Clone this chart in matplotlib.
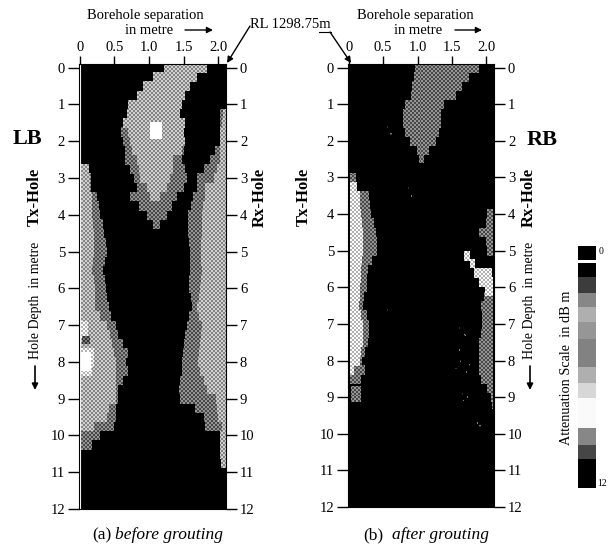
import numpy as np
import matplotlib
matplotlib.use('Agg')
import matplotlib.pyplot as plt

plt.rcParams['font.family'] = ['Liberation Serif', 'DejaVu Serif']

W, H = 608, 549

# attenuation shades, 0 = black ... 5 = white
shades = [0, 85, 110, 170, 215, 255]

# (a) before grouting, zone edges in metres read at each depth
a_blob_d = [0, .25, .5, .75, 1, 1.25, 1.5, 1.75, 2, 2.25, 2.5, 2.75, 3, 3.25, 3.5]
a_blob_l = [1.21, 1.06, .92, .82, .70, .68, .63, .70, .72, .75, .82, .85, .87, .97, 1.01]
a_blob_r = [1.84, 1.69, 1.59, 1.52, 1.47, 1.45, 1.52, 1.50, 1.52, 1.47, 1.35, 1.35, 1.30, 1.26, 1.16]
a_fringe_d = [1.75, 2, 2.25, 2.5, 2.75, 3, 3.25, 3.5, 3.75, 4, 4.25]
a_fringe_l = [.60, .62, .65, .66, .72, .78, .82, .72, .85, .97, 1.06]
a_fringe_r = [1.50, 1.52, 1.50, 1.47, 1.52, 1.55, 1.50, 1.40, 1.33, 1.26, 1.16]

a_left_d = [2.75, 3, 3.25, 3.5, 3.75, 4, 4.25, 4.5, 4.75, 5, 5.25, 5.5, 5.75, 6, 6.25, 6.5, 6.75, 7, 7.25, 7.5,
            7.75, 8, 8.25, 8.5, 8.75, 9, 9.25, 9.5, 9.75, 10, 10.25]
a_left_light = [.14, .15, .15, .18, .18, .18, .19, .20, .20, .20, .19, .18, .20, .22, .22, .22, .30, .40, .43, .47,
                .50, .53, .53, .53, .53, .53, .42, .40, .20, 0, 0]
a_left_dark = [.14, .16, .17, .25, .28, .30, .33, .35, .38, .40, .36, .33, .36, .38, .40, .42, .45, .52, .55, .62,
               .70, .67, .70, .62, .55, .55, .53, .52, .50, .29, .18]
a_right_d = [1.25, 1.5, 1.75, 2, 2.25, 2.5, 2.75, 3, 3.25, 3.5, 3.75, 4, 4.25, 4.5, 4.75, 5, 5.25, 5.5, 5.75, 6,
             6.25, 6.5, 6.75, 7, 7.25, 7.5, 7.75, 8, 8.25, 8.5, 8.75, 9, 9.25, 9.5, 9.75]
a_right_light = [2.07, 2.05, 2.03, 2.03, 2.02, 2.03, 1.98, 1.93, 1.81, 1.80, 1.78, 1.76, 1.76, 1.76, 1.75, 1.75, 1.75, 1.76, 1.75, 1.74,
                 1.72, 1.69, 1.72, 1.76, 1.75, 1.74, 1.72, 1.71, 1.74, 1.79, 1.84, 1.96, 1.98, 2.0, 2.05]
a_right_dark = [2.03, 2.02, 2.02, 2.02, 1.95, 1.88, 1.79, 1.69, 1.69, 1.64, 1.60, 1.56, 1.56, 1.56, 1.57, 1.59, 1.59, 1.59, 1.58, 1.58,
                1.60, 1.62, 1.58, 1.55, 1.52, 1.50, 1.49, 1.48, 1.48, 1.45, 1.43, 1.45, 1.67, 1.79, 1.81]
a_strip_d = [10, 10.25, 10.5, 10.75]
a_strip_l = [2.03, 2.03, 2.03, 2.04]

# (b) after grouting
b_blob_d = [0, .25, .5, .75, 1, 1.25, 1.5, 1.75, 2, 2.25, 2.45]
b_blob_l = [.95, .94, .92, .90, .81, .78, .78, .81, .89, .98, 1.02]
b_blob_r = [1.89, 1.75, 1.65, 1.56, 1.39, 1.35, 1.34, 1.31, 1.27, 1.17, 1.10]
b_left_d = [3, 3.25, 3.5, 3.75, 4, 4.25, 4.5, 4.75, 5, 5.25, 5.5, 5.75, 6, 6.25, 6.5, 6.75, 7, 7.25, 7.5, 7.75, 8, 8.25, 8.5]
b_left_light = [.02, .12, .16, .17, .18, .19, .20, .20, .20, .19, .18, .18, .17, .16, .15, .18, .20, .20, .20, .18, .16, .08, .02]
b_left_dark = [.11, .12, .30, .31, .32, .36, .40, .41, .41, .34, .28, .27, .26, .22, .20, .27, .29, .29, .28, .24, .19, .23, .18]
b_spot_d = [8.8, 9.0]
b_spot_r = [.18, .18]
b_right_d = [4, 4.25, 4.5, 4.75, 5, 6.25, 6.5, 6.75, 7, 7.25, 7.5, 7.75, 8, 8.25, 8.5, 8.75, 9, 9.2]
b_right_l = [2.01, 1.99, 1.89, 1.99, 2.01, 1.97, 1.92, 1.94, 1.94, 1.92, 1.90, 1.90, 1.90, 1.89, 1.92, 2.01, 2.06, 2.08]
b_streak_d = [5.15, 5.35, 5.6, 5.85, 6.1]
b_streak_l = [1.68, 1.76, 1.82, 1.89, 1.98]
b_streak_r = [1.76, 1.84, 2.08, 2.09, 2.09]
# faint specks in the dark part of (b)
b_speck_d = [1.6, 1.8, 3.3, 3.5, 6.6, 7.1, 7.3, 7.7, 8.0, 8.1, 8.2, 8.3, 8.9, 9.0, 9.1, 9.7, 9.8]
b_speck_x = [.55, .6, .85, .9, .55, 1.6, 1.68, 1.6, 1.62, 1.75, 1.55, 1.7, 1.65, 1.72, 1.66, 1.86, 1.9]

# colour scale: segment edges in pixels of the printed bar and their shade
scale_edges = [246, 260, 263, 277, 293, 307, 322, 339, 367, 383, 398, 428, 445, 459, 488]
scale_shades = [0, 255, 0, 60, 135, 175, 150, 130, 175, 215, 250, 135, 70, 0]

x_ticks = [0, .5, 1, 1.5, 2]
x_labels = ['0', '0.5', '1.0', '1.5', '2.0']
depths = list(range(13))


def make_panel(x_max=2.11, y_min=-0.1, y_max=12.0):
    xe = np.linspace(-0.01, x_max, 148)
    ye = np.linspace(y_min, y_max, 446)
    return xe, ye, np.zeros((445, 147), dtype=int)


def paint(p, d_list, left, right, level, h=0.25):
    xe, ye, g = p
    xc = (xe[:-1] + xe[1:]) / 2
    yc = (ye[:-1] + ye[1:]) / 2
    for d, l, r in zip(d_list, left, right):
        my = (yc >= d - h / 2) & (yc < d + h / 2 + 0.01)
        mx = (xc >= l) & (xc <= r)
        g[np.ix_(my, mx)] = level


def draw_panel(ax, p):
    xe, ye, g = p
    img = np.array(shades, dtype=float)[g]
    # printed halftone look
    ii, jj = np.indices(g.shape)
    grain = ((ii // 2 + jj // 2) % 2) * 2 - 1
    img = np.clip(img + grain * np.where((g > 0) & (g < 5), 38, 0), 0, 255)
    ax.pcolormesh(xe, ye, img, cmap='gray', vmin=0, vmax=255, shading='flat')
    ax.set_xlim(xe[0], xe[-1])
    ax.set_ylim(ye[-1], ye[0])
    ax.xaxis.tick_top()
    ax.set_xticks(x_ticks, x_labels)
    ax.set_yticks(depths)
    ax.tick_params(axis='x', length=6, width=1, pad=1, labelsize=10.5)
    ax.tick_params(axis='y', length=8, width=1, pad=2, labelsize=10.5, left=True, right=True,
                   labelleft=True, labelright=True)
    for s in ax.spines.values():
        s.set_linewidth(0.8)


fig = plt.figure(figsize=(W / 100, H / 100), dpi=100)


def add_axes(x0, y0, x1, y1):
    return fig.add_axes([x0 / W, 1 - y1 / H, (x1 - x0) / W, (y1 - y0) / H])


def txt(x, y, s, **kw):
    kw.setdefault('ha', 'center')
    kw.setdefault('va', 'center')
    fig.text(x / W, 1 - y / H, s, **kw)


def arrow(x0, y0, x1, y1, lw=1.0):
    fig.add_artist(plt.matplotlib.patches.FancyArrowPatch(
        (x0 / W, 1 - y0 / H), (x1 / W, 1 - y1 / H), transform=fig.transFigure,
        arrowstyle='-|>', mutation_scale=9, lw=lw, color='black', shrinkA=0, shrinkB=0))


# panel a
pa = make_panel()
paint(pa, a_fringe_d, a_fringe_l, a_fringe_r, 2)
paint(pa, a_blob_d, a_blob_l, a_blob_r, 3)
paint(pa, [1.6, 1.8], [1.01, 1.01], [1.18, 1.18], 5)
paint(pa, a_left_d, [0] * len(a_left_d), a_left_dark, 2)
paint(pa, a_left_d, [0] * len(a_left_d), a_left_light, 3)
paint(pa, [7.0, 7.25, 7.75, 8.0, 8.25], [0] * 5, [.12, .12, .20, .20, .18], 4)
paint(pa, [7.85, 8.1], [.02, .02], [.17, .17], 5)
paint(pa, [7.4], [.03], [.15], 1, h=.2)
paint(pa, a_right_d, a_right_dark, [2.11] * len(a_right_d), 2)
paint(pa, a_right_d, a_right_light, [2.11] * len(a_right_d), 3)
paint(pa, a_strip_d, a_strip_l, [2.11] * 4, 3)

ax_a = add_axes(79, 64, 226, 509)
draw_panel(ax_a, pa)
ax_a.axvline(0.0, color='white', lw=0.8)

# panel b
pb = make_panel()
paint(pb, b_blob_d, b_blob_l, b_blob_r, 2)
paint(pb, b_left_d, [.02] * len(b_left_d), b_left_dark, 2)
paint(pb, b_left_d, [.02] * len(b_left_d), b_left_light, 4)
paint(pb, b_spot_d, [.03, .03], b_spot_r, 2)
paint(pb, b_right_d, b_right_l, [2.09] * len(b_right_d), 2)
paint(pb, b_streak_d, b_streak_l, b_streak_r, 4)
paint(pb, b_speck_d, b_speck_x, [x + .02 for x in b_speck_x], 1, h=.04)

ax_b = add_axes(348, 64, 494, 507)
draw_panel(ax_b, pb)

# colour scale
ax_c = add_axes(578, 246, 596, 488)
ax_c.pcolormesh([0, 1], scale_edges, np.array(scale_shades)[:, None], cmap='gray', vmin=0, vmax=255)
ax_c.set_ylim(488, 246)
ax_c.axis('off')
txt(601, 251, '0', fontsize=7)
txt(602, 484, '12', fontsize=7)
txt(567, 368, 'Attenuation Scale  in dB m', rotation=90, fontsize=10.3)

# header text
txt(145, 15, 'Borehole separation', fontsize=10.5)
txt(149, 30, 'in metre', fontsize=10.5)
arrow(185, 30, 213, 30)
txt(415, 15, 'Borehole separation', fontsize=10.5)
txt(418, 30, 'in metre', fontsize=10.5)
arrow(455, 30, 482, 30)
txt(290, 25, 'RL 1298.75m', fontsize=10.5)
arrow(250, 26, 227, 63)
arrow(330, 32, 351, 63)
fig.add_artist(plt.Line2D([319 / W, 331 / W], [1 - 32 / H, 1 - 32 / H], color='black', lw=0.8))

# side labels
txt(27, 139, 'LB', fontsize=16, fontweight='bold')
txt(542, 140, 'RB', fontsize=16, fontweight='bold')
txt(35, 197, 'Tx-Hole', rotation=90, fontsize=12, fontweight='bold')
txt(260, 197, 'Rx-Hole', rotation=90, fontsize=12, fontweight='bold')
txt(304, 197, 'Tx-Hole', rotation=90, fontsize=12, fontweight='bold')
txt(529, 197, 'Rx-Hole', rotation=90, fontsize=12, fontweight='bold')
txt(35, 300, 'Hole Depth  in metre', rotation=90, fontsize=10)
arrow(35, 366, 35, 390, lw=1.2)
txt(530, 300, 'Hole Depth  in metre', rotation=90, fontsize=10)
arrow(530, 366, 530, 390, lw=1.2)

# captions
txt(92, 535, '(a)', ha='left', fontsize=12.5)
txt(115, 535, 'before grouting', ha='left', fontsize=12.5, style='italic')
txt(363, 535, '(b)', ha='left', fontsize=12.5)
txt(392, 535, 'after grouting', ha='left', fontsize=12.5, style='italic')

fig.savefig('out.png', dpi=100)
